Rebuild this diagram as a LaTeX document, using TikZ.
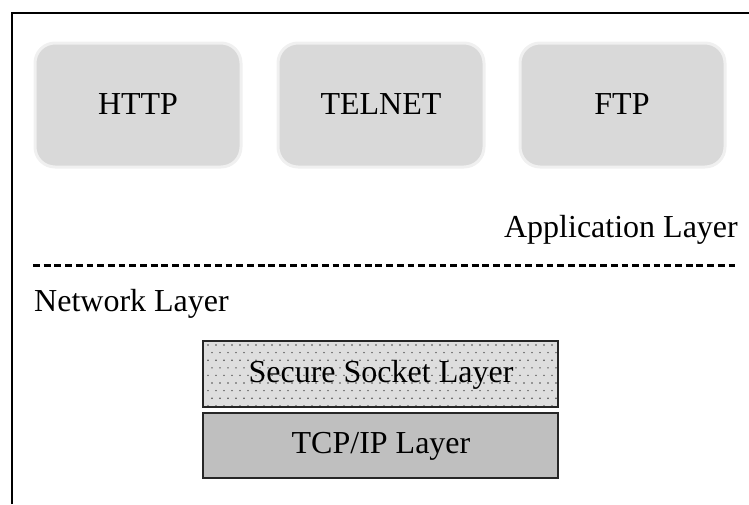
\documentclass[tikz,border=0pt]{standalone}
\usepackage{fontspec}
\setmainfont{Liberation Serif}
\begin{document}
\begin{tikzpicture}[x=1pt,y=-1pt,
  lbl/.style={font=\fontsize{32}{38}\selectfont, inner sep=0pt, text=black},
  appbox/.style={draw=black!6, line width=3pt, fill=black!15, rounded corners=20pt},
  layerbox/.style={draw=black!85, line width=2pt}]
\useasboundingbox (0,0) rectangle (749,504);

% outer frame, open at the right and bottom
\draw[line width=2pt] (11.5,504) -- (11.5,12.5) -- (749,12.5);

% application protocols
\draw[appbox] (35,43) rectangle (241,167);
\draw[appbox] (278,43) rectangle (484,167);
\draw[appbox] (520,43) rectangle (725,167);
\node[lbl, anchor=base] (http) at (138,114) {HTTP};
\node[lbl, anchor=base] (telnet) at (381,114) {TELNET};
\node[lbl, anchor=base] (ftp) at (622,114) {FTP};

\node[lbl, anchor=base east] (app) at (738,237) {Application Layer};

% separator between the two layers
\draw[line width=2.6pt, dash pattern=on 6.8pt off 3.9pt] (33,265.5) -- (735,265.5);

\node[lbl, anchor=base west] (net) at (34,311) {Network Layer};

% secure socket layer, dotted fill
\fill[black!13] (203,341) rectangle (558,407);
\begin{scope}
  \clip (204,342) rectangle (557,406);
  \foreach \r in {0,...,8} {
    \pgfmathsetmacro{\yy}{345+\r*7.6}
    \pgfmathsetmacro{\xo}{mod(\r,2)*4}
    \foreach \c in {0,...,44} {
      \fill[black!70] ({208+\xo+\c*8},\yy) circle (0.8pt);
    }
  }
\end{scope}
\draw[layerbox] (203,341) rectangle (558,407);
\node[lbl, anchor=base] (ssl) at (381,382) {Secure Socket Layer};

% TCP/IP layer
\draw[layerbox, fill=black!25] (203,413) rectangle (558,478);
\node[lbl, anchor=base] (tcp) at (381,453) {TCP/IP Layer};
\end{tikzpicture}
\end{document}
